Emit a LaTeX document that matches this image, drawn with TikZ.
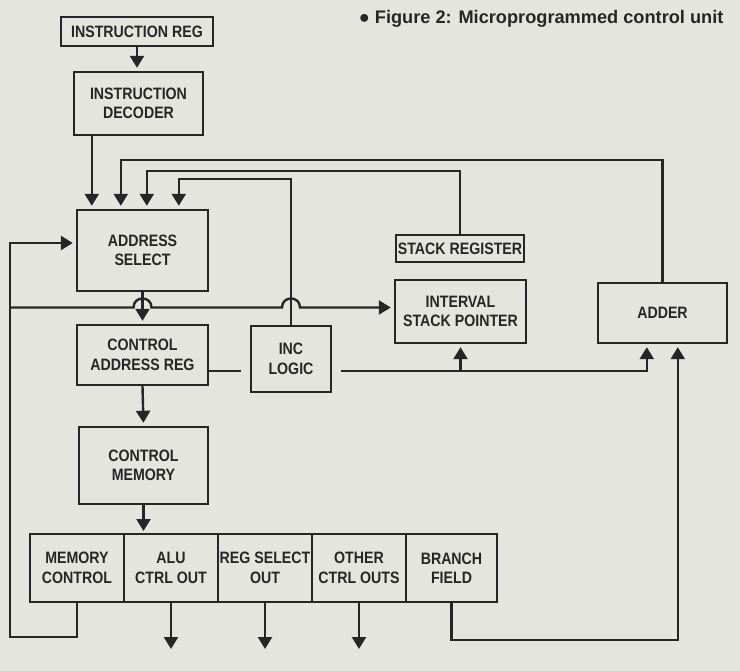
\documentclass[tikz,border=0pt]{standalone}
\usepackage{fontspec}
\setmainfont{Liberation Sans}
\newfontfamily\boxfont[FakeStretch=0.86]{Liberation Sans}
\usetikzlibrary{calc, arrows.meta, positioning}
\definecolor{paper}{RGB}{229,229,223}
\definecolor{ink}{RGB}{38,38,38}
\tikzset{
  cu/box/.style={draw=ink, line width=2.4pt, align=center, inner sep=0pt, text=ink,
    font=\boxfont\bfseries\fontsize{16.5}{19.5}\selectfont},
  cu/field/.style={minimum width=94pt, minimum height=68pt, outer sep=0pt},
  cu/wire/.style={draw=ink, line width=2.4pt},
  cu/arrow/.style={cu/wire, -{Triangle[width=14pt,length=12pt]}, shorten >=3pt},
  cu/title/.style={font=\bfseries\fontsize{18.2}{22}\selectfont, text=ink},
}

\begin{document}
\begin{tikzpicture}[x=1pt, y=-1pt]
  \fill[paper] (0,0) rectangle (740,671);

  \node[cu/title, anchor=east] (title) at (727,19) {● Figure 2: Microprogrammed control unit};

  % Decode and sequencing
  \node[cu/box, minimum width=152pt, minimum height=29pt] (ireg) at (137,31.5) {INSTRUCTION REG};
  \node[cu/box, minimum width=129pt, minimum height=63pt] (idec) at (138.5,103.5) {INSTRUCTION\\DECODER};
  \node[cu/box, minimum width=131pt, minimum height=81pt] (asel) at (142.5,250.5) {ADDRESS\\SELECT};
  \node[cu/box, minimum width=131pt, minimum height=60pt] (car) at (142.5,355) {CONTROL\\ADDRESS REG};
  \node[cu/box, minimum width=129pt, minimum height=77pt] (cmem) at (143.5,465.5) {CONTROL\\MEMORY};
  \node[cu/box, minimum width=80pt, minimum height=66pt] (inc) at (291,359) {INC\\LOGIC};

  % Stack and adder
  \node[cu/box, minimum width=128pt, minimum height=27pt] (sreg) at (460,248.5) {STACK REGISTER};
  \node[cu/box, minimum width=131pt, minimum height=63pt] (isp) at (460.5,311.5) {INTERVAL\\STACK POINTER};
  \node[cu/box, minimum width=129pt, minimum height=60pt] (adder) at (662.5,313) {ADDER};

  % Microinstruction fields
  \node[cu/box, cu/field] (memctl) at (77,568) {MEMORY\\CONTROL};
  \node[cu/box, cu/field, right=0pt of memctl] (alu) {ALU\\CTRL OUT};
  \node[cu/box, cu/field, right=0pt of alu] (regsel) {REG SELECT\\OUT};
  \node[cu/box, cu/field, right=0pt of regsel] (other) {OTHER\\CTRL OUTS};
  \node[cu/box, cu/field, minimum width=91pt, right=0pt of other] (branch) {BRANCH\\FIELD};

  % Into address select
  \coordinate (decout) at ($(idec.south west)+(19,0)$);
  \coordinate (inA) at ($(asel.north west)+(45,0)$);
  \coordinate (inB) at ($(asel.north west)+(71,0)$);
  \coordinate (inC) at ($(asel.north west)+(103,0)$);
  \draw[cu/arrow] (ireg.south) -- (ireg.south |- idec.north);
  \draw[cu/arrow] (decout) -- (decout |- asel.north);
  \draw[cu/arrow] (adder.north) -- ++(0,-122) -| (inA);
  \draw[cu/arrow] (sreg.north) -- ++(0,-63) -| (inB);
  \draw[cu/arrow] (inc.north) -- ++(0,-146) -| (inC);

  % Main chain
  \draw[cu/arrow] (asel.south) -- (car.north);
  \draw[cu/arrow] (car.south) -- (cmem.north);
  \draw[cu/arrow] (cmem.south) -- (cmem.south |- alu.north);

  % Memory control loop, with hops
  \coordinate (lft) at (10,307.5);
  \coordinate (loopin) at ($(asel.west)+(0,-7.5)$);
  \draw[cu/arrow] (memctl.south) -- ++(0,35) -| (lft) |- (loopin);
  \draw[cu/arrow] (lft) -- ($(lft -| asel.south)+(-9,0)$)
    .. controls +(0,-12) and +(0,-12) .. ($(lft -| asel.south)+(9,0)$)
    -- ($(lft -| inc.north)+(-9,0)$)
    .. controls +(0,-12) and +(0,-12) .. ($(lft -| inc.north)+(9,0)$)
    -- (lft -| isp.west);

  % Increment path
  \coordinate (carout) at ($(car.east)+(0,16)$);
  \coordinate (addinA) at ($(adder.south west)+(50,0)$);
  \coordinate (addinB) at ($(adder.south west)+(81,0)$);
  \draw[cu/wire, shorten >=9pt] (carout) -- (carout -| inc.west);
  \draw[cu/arrow, shorten <=9pt] (carout -| inc.east) -| (addinA);
  \draw[cu/arrow] (carout -| isp.south) -- (isp.south);

  % Outputs
  \foreach \f in {alu, regsel, other} {
    \coordinate (\f out) at ($(\f.south)+(0,50)$);
    \draw[cu/arrow] (\f.south) -- (\f out);
  }
  \draw[cu/arrow] (branch.south) -- ++(0,38) -| (addinB);

\end{tikzpicture}
\end{document}
